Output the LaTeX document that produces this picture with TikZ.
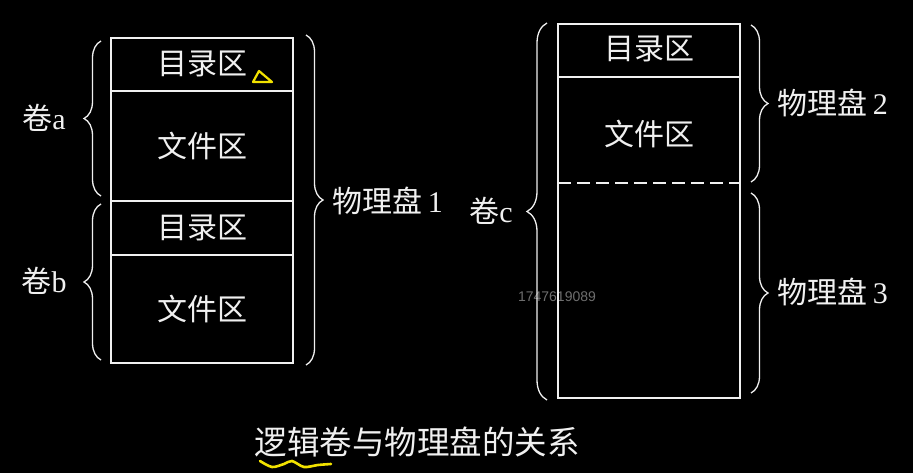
\documentclass[tikz,border=0pt]{standalone}
\usepackage{fontspec}
\setmainfont{Liberation Serif}
\newfontfamily\cjk{Noto Sans CJK SC}
\newfontfamily\wmfont{Liberation Sans}
\usetikzlibrary{decorations.pathreplacing}
\definecolor{slidebg}{HTML}{000000}
\definecolor{chalkwhite}{HTML}{F0F0F0}
\definecolor{markyellow}{HTML}{F2E200}
\definecolor{wmgray}{HTML}{6E6E6E}

\begin{document}
\begin{tikzpicture}[x=1pt, y=-1pt, line width=1.5pt,
    lbl/.style={text=chalkwhite, font=\fontsize{30}{32}\selectfont, inner sep=0pt},
    brc/.style={draw=chalkwhite, line width=1.3pt, decorate,
      decoration={brace, amplitude=#1}},
    brc/.default=17]
    %% --- background and frame ---
    \fill[slidebg] (0,0) rectangle (913,473);
    \path[use as bounding box] (0,0) rectangle (913,473);
    %% watermark (behind the lines)
    \node[text=wmgray, font=\wmfont\fontsize{14}{14}\selectfont, inner sep=0pt]
      (wm) at (557,297) {1747619089};
    %% --- left: disk 1 split into volumes a and b ---
    \draw[chalkwhite] (111,38) rectangle (293,363);
    \foreach \y in {91, 201, 255} {
      \draw[chalkwhite] (111,\y) -- (293,\y);
    }
    \node[lbl] (dirA)  at (202,64)  {\cjk 目录区};
    \node[lbl] (fileA) at (202,146) {\cjk 文件区};
    \node[lbl] (dirB)  at (202,228) {\cjk 目录区};
    \node[lbl] (fileB) at (202,309) {\cjk 文件区};
    %% volume braces on the left
    \draw[brc] (101,196) -- (101,41);
    \draw[brc] (101,360) -- (101,204);
    \node[lbl] (volA) at (44,118) {{\cjk 卷}a};
    \node[lbl] (volB) at (44,281) {{\cjk 卷}b};
    %% disk brace on the right
    \draw[brc] (306,35) -- (306,365);
    \node[lbl, anchor=west] (disk1) at (332,201) {{\cjk 物理盘}\,1};
    %% --- right: volume c over disks 2 and 3 ---
    \draw[chalkwhite] (558,24) rectangle (740,398);
    \draw[chalkwhite] (558,77) -- (740,77);
    \draw[chalkwhite, dash pattern=on 13pt off 6pt] (558,183) -- (740,183);
    \node[lbl] (dirC)  at (649,49)  {\cjk 目录区};
    \node[lbl] (fileC) at (649,134) {\cjk 文件区};
    \draw[brc=20] (547,400) -- (547,23);
    \node[lbl] (volC) at (491,211) {{\cjk 卷}c};
    \draw[brc] (751,25) -- (751,182);
    \draw[brc] (751,193) -- (751,393);
    \node[lbl, anchor=west] (disk2) at (777,103) {{\cjk 物理盘}\,2};
    \node[lbl, anchor=west] (disk3) at (777,292) {{\cjk 物理盘}\,3};
    %% --- caption ---
    \node[text=chalkwhite, font=\fontsize{32.5}{34}\selectfont, inner sep=0pt]
      (caption) at (417,442) {\cjk 逻辑卷与物理盘的关系};
    %% --- yellow pen marks ---
    \draw[markyellow, line width=2.2pt, line join=round] (259,71) -- (253,82) -- (272,82) -- cycle;
    \draw[markyellow, line width=2.6pt, line cap=round] plot[smooth] coordinates
      {(260,461) (272,467) (284,464) (292,461) (304,467) (318,465) (331,464)};
\end{tikzpicture}
\end{document}
